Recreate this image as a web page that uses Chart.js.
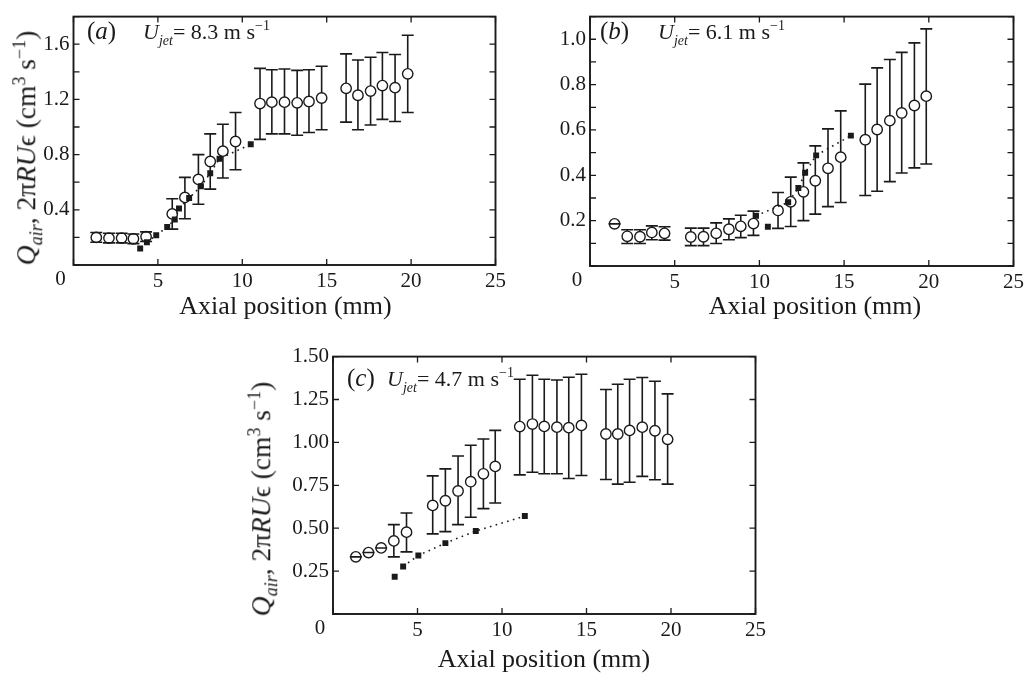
<!DOCTYPE html>
<html>
<head>
<meta charset="utf-8">
<script src="https://cdn.jsdelivr.net/npm/chart.js@4.4.1/dist/chart.umd.min.js"></script>
<style>
  html, body { margin: 0; padding: 0; background: #fff; }
  body { width: 1028px; height: 677px; position: relative; overflow: hidden;
         font-family: "Liberation Serif", "Times New Roman", serif; color: #1a1a1a; }
  canvas { position: absolute; }
  .txt { position: absolute; white-space: nowrap; line-height: 1; }
  .xt { font-size: 26px; transform: translateX(-50%); }
  .yt { font-size: 27.5px; transform: translate(-50%, -50%) rotate(-90deg); }
  .lab { font-size: 25px; }
  .uj { font-size: 22px; }
  .sub { font-size: 14px; position: relative; top: 6px; font-style: italic; }
  .sup { font-size: 14px; position: relative; top: -9px; }
  .ysub { font-size: 18px; position: relative; top: 7px; font-style: italic; }
  .ysup { font-size: 18px; position: relative; top: -10px; }
</style>
</head>
<body>

<canvas id="chartA" width="510" height="330" style="left:0px;top:0px;width:510px;height:330px"></canvas>
<canvas id="chartB" width="513" height="330" style="left:515px;top:0px;width:513px;height:330px"></canvas>
<canvas id="chartC" width="510" height="337" style="left:260px;top:340px;width:510px;height:337px"></canvas>

<!-- axis titles and panel labels -->
<div class="txt xt" style="left:285.5px;top:293px">Axial position (mm)</div>
<div class="txt xt" style="left:815px;top:293px">Axial position (mm)</div>
<div class="txt xt" style="left:544px;top:646px">Axial position (mm)</div>

<div class="txt yt" style="left:26px;top:148px"><i>Q</i><span class="ysub">air</span>, 2π<i>RU</i>ϵ (cm<span class="ysup">3</span> s<span class="ysup">−1</span>)</div>
<div class="txt yt" style="left:261px;top:499px"><i>Q</i><span class="ysub">air</span>, 2π<i>RU</i>ϵ (cm<span class="ysup">3</span> s<span class="ysup">−1</span>)</div>

<div class="txt lab" style="left:87px;top:18px">(<i>a</i>)</div>
<div class="txt uj" style="left:143px;top:21px"><i>U</i><span class="sub">jet</span>= 8.3 m s<span class="sup">−1</span></div>
<div class="txt lab" style="left:600px;top:18px">(<i>b</i>)</div>
<div class="txt uj" style="left:658px;top:21px"><i>U</i><span class="sub">jet</span>= 6.1 m s<span class="sup">−1</span></div>
<div class="txt lab" style="left:347px;top:365px">(<i>c</i>)</div>
<div class="txt uj" style="left:387px;top:368px"><i>U</i><span class="sub">jet</span>= 4.7 m s<span class="sup">−1</span></div>

<script>
'use strict';

// ---- panel (a), U_jet = 8.3 m/s ----
var aX  = [1.35, 2.1, 2.85, 3.55, 4.3, 5.85, 6.6, 7.4, 8.1, 8.85, 9.6, 11.05, 11.75, 12.5, 13.25, 13.95, 14.7, 16.15, 16.85, 17.6, 18.3, 19.05, 19.8];
var aY  = [0.20, 0.195, 0.195, 0.19, 0.205, 0.37, 0.49, 0.62, 0.75, 0.825, 0.895, 1.17, 1.18, 1.18, 1.175, 1.185, 1.21, 1.28, 1.23, 1.26, 1.30, 1.285, 1.385];
var aHi = [0.235, 0.23, 0.23, 0.225, 0.24, 0.48, 0.635, 0.80, 0.95, 1.02, 1.105, 1.425, 1.415, 1.42, 1.41, 1.415, 1.44, 1.53, 1.485, 1.505, 1.54, 1.525, 1.665];
var aLo = [0.165, 0.16, 0.16, 0.155, 0.17, 0.26, 0.335, 0.44, 0.55, 0.63, 0.69, 0.91, 0.95, 0.95, 0.94, 0.96, 0.98, 1.035, 0.98, 1.015, 1.055, 1.04, 1.105];
var aSqX = [3.95, 4.35, 4.9, 5.55, 6.0, 6.25, 6.85, 7.55, 8.1, 8.65, 10.5];
var aSqY = [0.12, 0.165, 0.215, 0.275, 0.33, 0.41, 0.485, 0.57, 0.665, 0.77, 0.875];
var aLineSkip = [0];

// ---- panel (b), U_jet = 6.1 m/s ----
var bX  = [1.45, 2.2, 2.95, 3.65, 4.4, 5.95, 6.7, 7.45, 8.2, 8.9, 9.65, 11.1, 11.85, 12.6, 13.3, 14.05, 14.8, 16.25, 16.95, 17.7, 18.4, 19.15, 19.85];
var bY  = [0.186, 0.131, 0.129, 0.148, 0.144, 0.128, 0.129, 0.144, 0.162, 0.175, 0.187, 0.245, 0.283, 0.327, 0.376, 0.431, 0.480, 0.557, 0.602, 0.641, 0.675, 0.708, 0.749];
var bHi = [0.186, 0.160, 0.160, 0.177, 0.173, 0.167, 0.167, 0.190, 0.208, 0.224, 0.242, 0.324, 0.392, 0.455, 0.530, 0.605, 0.684, 0.802, 0.874, 0.911, 0.942, 0.984, 1.046];
var bLo = [0.186, 0.099, 0.099, 0.116, 0.114, 0.090, 0.090, 0.099, 0.116, 0.125, 0.135, 0.166, 0.174, 0.200, 0.229, 0.262, 0.280, 0.311, 0.330, 0.372, 0.410, 0.433, 0.450];
var bSqX = [9.8, 10.5, 11.7, 12.3, 12.7, 13.35, 15.4];
var bSqY = [0.222, 0.173, 0.281, 0.344, 0.411, 0.488, 0.575];
var bLineSkip = [1];

// ---- panel (c), U_jet = 4.7 m/s ----
var cX  = [1.35, 2.1, 2.85, 3.6, 4.35, 5.9, 6.65, 7.4, 8.15, 8.9, 9.6, 11.05, 11.8, 12.5, 13.25, 13.95, 14.7, 16.15, 16.85, 17.55, 18.3, 19.05, 19.8];
var cY  = [0.333, 0.358, 0.385, 0.426, 0.477, 0.633, 0.660, 0.717, 0.771, 0.817, 0.860, 1.092, 1.107, 1.093, 1.089, 1.086, 1.099, 1.049, 1.049, 1.070, 1.089, 1.068, 1.018];
var cHi = [0.333, 0.358, 0.385, 0.521, 0.589, 0.805, 0.846, 0.921, 0.983, 1.020, 1.070, 1.368, 1.391, 1.368, 1.364, 1.380, 1.397, 1.308, 1.339, 1.368, 1.378, 1.356, 1.283];
var cLo = [0.333, 0.358, 0.385, 0.333, 0.362, 0.467, 0.480, 0.521, 0.564, 0.614, 0.647, 0.811, 0.826, 0.817, 0.817, 0.790, 0.807, 0.784, 0.757, 0.768, 0.802, 0.782, 0.757];
var cSqX = [3.65, 4.15, 5.05, 6.65, 8.45, 11.35];
var cSqY = [0.217, 0.277, 0.341, 0.413, 0.484, 0.571];
var cLineSkip = [0];

var xTicks = [0, 5, 10, 15, 20, 25];

var INK = '#1a1a1a';
var FONT = 'Liberation Serif';

function pts(xs, ys) {
  return xs.map(function (x, i) { return { x: x, y: ys[i] }; });
}

// frame on all four sides plus inward tick marks
var frameTicks = {
  id: 'frameTicks',
  afterDatasetsDraw: function (chart) {
    var ctx = chart.ctx, a = chart.chartArea;
    var xs = chart.scales.x, ys = chart.scales.y;
    var len = 6;
    ctx.save();
    ctx.strokeStyle = INK;
    ctx.lineWidth = 1.3;
    ctx.beginPath();
    ys.ticks.forEach(function (t) {
      var py = ys.getPixelForValue(t.value);
      ctx.moveTo(a.left, py); ctx.lineTo(a.left + len, py);
      ctx.moveTo(a.right, py); ctx.lineTo(a.right - len, py);
    });
    xs.ticks.forEach(function (t) {
      var px = xs.getPixelForValue(t.value);
      ctx.moveTo(px, a.bottom); ctx.lineTo(px, a.bottom - len);
      ctx.moveTo(px, a.top); ctx.lineTo(px, a.top + len);
    });
    ctx.stroke();
    ctx.lineWidth = 1.9;
    ctx.strokeRect(a.left, a.top, a.right - a.left, a.bottom - a.top);
    // the "0" of the x axis sits a little left of its tick
    ctx.fillStyle = INK;
    ctx.font = '21px "' + FONT + '"';
    ctx.textAlign = 'center';
    ctx.textBaseline = 'top';
    ctx.fillText('0', xs.getPixelForValue(0) - 13, a.bottom + 4);
    ctx.restore();
  }
};

// vertical error bars with caps, read from dataset.errHi / errLo
var errorBars = {
  id: 'errorBars',
  afterDatasetsDraw: function (chart) {
    var ctx = chart.ctx, ys = chart.scales.y;
    ctx.save();
    ctx.strokeStyle = INK;
    ctx.lineWidth = 1.6;
    chart.data.datasets.forEach(function (ds, i) {
      if (!ds.errHi) return;
      var meta = chart.getDatasetMeta(i);
      var r = ds.pointRadius;
      var cap = 6;
      meta.data.forEach(function (p, j) {
        var yh = ys.getPixelForValue(ds.errHi[j]);
        var yl = ys.getPixelForValue(ds.errLo[j]);
        ctx.beginPath();
        if (yh < p.y - r) { ctx.moveTo(p.x, yh); ctx.lineTo(p.x, p.y - r); }
        if (yl > p.y + r) { ctx.moveTo(p.x, p.y + r); ctx.lineTo(p.x, yl); }
        ctx.moveTo(p.x - cap, yh); ctx.lineTo(p.x + cap, yh);
        ctx.moveTo(p.x - cap, yl); ctx.lineTo(p.x + cap, yl);
        ctx.stroke();
      });
    });
    ctx.restore();
  }
};

function makePanel(id, p) {
  var lineX = p.sqX.filter(function (v, i) { return p.skip.indexOf(i) < 0; });
  var lineY = p.sqY.filter(function (v, i) { return p.skip.indexOf(i) < 0; });

  return new Chart(document.getElementById(id), {
    type: 'scatter',
    data: {
      datasets: [
        {
          data: pts(lineX, lineY),
          showLine: true,
          borderColor: INK,
          borderWidth: 1.6,
          borderDash: [1.6, 4.4],
          pointRadius: 0,
          order: 3
        },
        {
          data: pts(p.sqX, p.sqY),
          pointStyle: 'rect',
          pointRadius: 4.2,
          backgroundColor: INK,
          borderColor: INK,
          borderWidth: 0,
          order: 2
        },
        {
          data: pts(p.x, p.y),
          errHi: p.hi,
          errLo: p.lo,
          pointStyle: 'circle',
          pointRadius: 5.2,
          backgroundColor: 'rgba(255,255,255,0)',
          borderColor: INK,
          borderWidth: 1.4,
          order: 1
        }
      ]
    },
    options: {
      responsive: false,
      animation: false,
      events: [],
      layout: { padding: { left: 0, right: p.padR, top: p.padT, bottom: 0 } },
      plugins: { legend: { display: false }, tooltip: { enabled: false } },
      scales: {
        x: {
          type: 'linear',
          min: 0, max: 25,
          afterFit: function (s) { s.height = p.axH; },
          afterBuildTicks: function (s) { s.ticks = xTicks.map(function (v) { return { value: v }; }); },
          grid: { display: false, drawTicks: false },
          border: { display: false },
          ticks: {
            padding: 4,
            maxRotation: 0,
            autoSkip: false,
            color: INK,
            font: { family: FONT, size: 21 },
            callback: function (v) { return v === 0 ? '' : String(v); }
          }
        },
        y: {
          type: 'linear',
          min: 0, max: p.yMax,
          afterFit: function (s) { s.width = p.axW; },
          grid: { display: false, drawTicks: false },
          border: { display: false },
          ticks: {
            stepSize: p.yStep,
            padding: 4,
            autoSkip: false,
            color: INK,
            font: { family: FONT, size: 21 },
            callback: function (v) {
              if (v <= 0) return '';
              var k = v / p.yLabelStep;
              if (Math.abs(k - Math.round(k)) > 1e-6) return '';
              return v.toFixed(p.digits);
            }
          }
        }
      }
    },
    plugins: [errorBars, frameTicks]
  });
}

makePanel('chartA', {
  x: aX, y: aY, hi: aHi, lo: aLo, sqX: aSqX, sqY: aSqY, skip: aLineSkip,
  yMax: 1.8, yStep: 0.2, yLabelStep: 0.4, digits: 1,
  axW: 73.5, axH: 65, padR: 12, padT: 5
});

makePanel('chartB', {
  x: bX, y: bY, hi: bHi, lo: bLo, sqX: bSqX, sqY: bSqY, skip: bLineSkip,
  yMax: 1.1, yStep: 0.1, yLabelStep: 0.2, digits: 1,
  axW: 75, axH: 64, padR: 14, padT: 7
});

makePanel('chartC', {
  x: cX, y: cY, hi: cHi, lo: cLo, sqX: cSqX, sqY: cSqY, skip: cLineSkip,
  yMax: 1.5, yStep: 0.25, yLabelStep: 0.25, digits: 2,
  axW: 73, axH: 63, padR: 12.5, padT: 15
});
</script>
</body>
</html>
